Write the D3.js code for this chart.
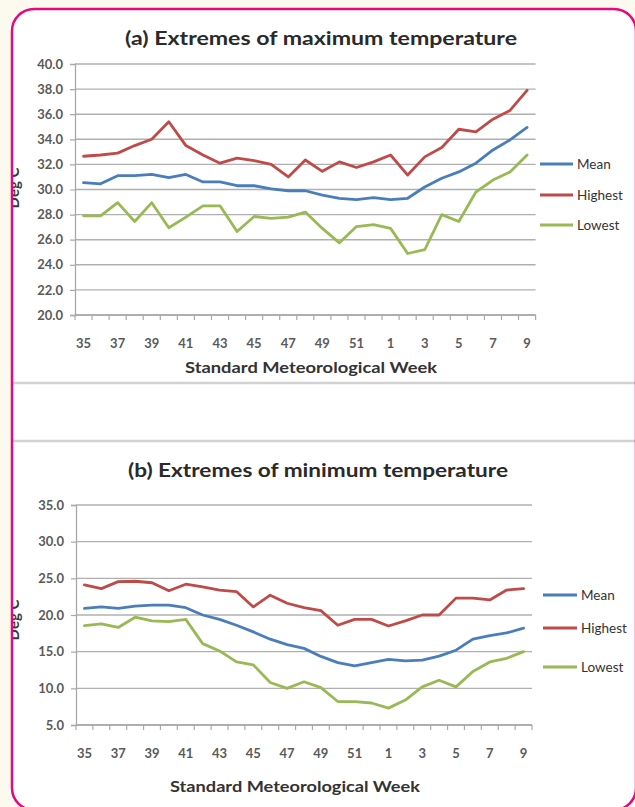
<!DOCTYPE html>
<html>
<head>
<meta charset="utf-8">
<script src="https://cdn.jsdelivr.net/npm/d3@7"></script>
<style>
  html, body { margin: 0; padding: 0; background: #fcf9ee; }
  svg { display: block; }
  text { font-family: Lato, "Open Sans", "DejaVu Sans", sans-serif; }
</style>
</head>
<body>
<svg id="chart" width="635" height="807"></svg>
<script>
// Standard meteorological weeks (35..52, then 1..9 of the following year)
const weeks = [35,36,37,38,39,40,41,42,43,44,45,46,47,48,49,50,51,52,1,2,3,4,5,6,7,8,9];

// (a) Extremes of maximum temperature, deg C
const maxMean    = [30.55,30.45,31.1,31.1,31.2,30.95,31.2,30.6,30.6,30.3,30.3,30.05,29.9,29.9,29.55,29.3,29.2,29.35,29.2,29.3,30.2,30.9,31.4,32.1,33.15,33.95,34.95];
const maxHighest = [32.65,32.75,32.9,33.5,34.0,35.4,33.5,32.75,32.1,32.5,32.3,32.0,31.0,32.35,31.45,32.2,31.75,32.2,32.75,31.15,32.6,33.35,34.8,34.6,35.6,36.3,37.9];
const maxLowest  = [27.9,27.9,28.95,27.45,28.95,26.95,27.8,28.7,28.7,26.65,27.85,27.7,27.8,28.2,26.9,25.75,27.05,27.2,26.9,24.9,25.2,28.0,27.45,29.8,30.75,31.4,32.75];

// (b) Extremes of minimum temperature, deg C
const minMean    = [20.9,21.1,20.9,21.2,21.35,21.35,21.0,20.0,19.4,18.6,17.7,16.7,15.95,15.45,14.35,13.5,13.05,13.5,13.95,13.75,13.85,14.4,15.2,16.7,17.2,17.55,18.2];
const minHighest = [24.1,23.6,24.55,24.6,24.4,23.3,24.2,23.85,23.4,23.2,21.1,22.7,21.6,21.0,20.6,18.6,19.4,19.4,18.5,19.2,20.0,20.0,22.3,22.3,22.05,23.4,23.6];
const minLowest  = [18.55,18.8,18.3,19.7,19.2,19.1,19.4,16.1,15.1,13.6,13.2,10.8,10.0,10.9,10.1,8.2,8.2,8.0,7.3,8.4,10.2,11.1,10.2,12.3,13.6,14.1,15.0];

// Axis ticks
const maxTicks = [20,22,24,26,28,30,32,34,36,38,40];
const minTicks = [5,10,15,20,25,30,35];

const seriesNames  = ["Mean", "Highest", "Lowest"];
const seriesColors = ["#4a7ebb", "#be4b48", "#98b954"];

const titleA = "(a)  Extremes of maximum temperature";
const titleB = "(b)  Extremes of minimum temperature";
const xTitle = "Standard Meteorological Week";
const yTitle = "Deg C";

const svg = d3.select("#chart");
const W = 635, H = 807;

// page background and card
svg.append("rect").attr("width", W).attr("height", H).attr("fill", "#fcf9ee");
const card = { x: 12, y: 9, w: 624, h: 801, r: 22 };
svg.append("defs").append("clipPath").attr("id", "cardClip")
  .append("rect").attr("x", card.x).attr("y", card.y)
  .attr("width", card.w).attr("height", card.h).attr("rx", card.r);
svg.append("rect").attr("x", card.x).attr("y", card.y)
  .attr("width", card.w).attr("height", card.h).attr("rx", card.r)
  .attr("fill", "#ffffff");

const inner = svg.append("g").attr("clip-path", "url(#cardClip)");

// separators between the two chart blocks
[383, 441].forEach(y => {
  inner.append("line").attr("x1", card.x).attr("x2", W).attr("y1", y).attr("y2", y)
    .attr("stroke", "#d2d2d2").attr("stroke-width", 2.5);
});

function drawPanel(cfg) {
  const g = inner.append("g");
  const x = d3.scaleBand().domain(d3.range(weeks.length)).range([cfg.left, cfg.right]);
  const y = d3.scaleLinear().domain(cfg.yDomain).range([cfg.bottom, cfg.top]);
  const cx = i => x(i) + x.bandwidth() / 2;

  // horizontal gridlines
  g.append("g").selectAll("line").data(cfg.yTicks).join("line")
    .attr("x1", cfg.left).attr("x2", cfg.right)
    .attr("y1", d => y(d)).attr("y2", d => y(d))
    .attr("stroke", "#b0b0b0").attr("stroke-width", 1.4);

  // y axis
  const yAxis = d3.axisLeft(y).tickValues(cfg.yTicks).tickFormat(d3.format(".1f")).tickSize(5).tickPadding(7);
  const ya = g.append("g").attr("transform", `translate(${cfg.left},0)`).call(yAxis);
  ya.select(".domain").attr("stroke", "#a8a8a8").attr("stroke-width", 1.3);
  ya.selectAll(".tick line").attr("stroke", "#a8a8a8").attr("stroke-width", 1.2);
  ya.selectAll(".tick text").attr("fill", "#5a5a5a").attr("font-size", 13)
    .attr("font-weight", 700).style("font-family", "Lato, sans-serif");

  // x axis: ticks between categories, every other week labelled
  const xa = g.append("g").attr("transform", `translate(0,${cfg.bottom})`);
  xa.append("line").attr("x1", cfg.left).attr("x2", cfg.right).attr("y1", 0).attr("y2", 0)
    .attr("stroke", "#a8a8a8").attr("stroke-width", 1.3);
  xa.selectAll("line.tk").data(d3.range(weeks.length + 1)).join("line").attr("class", "tk")
    .attr("x1", i => i < weeks.length ? x(i) : cfg.right)
    .attr("x2", i => i < weeks.length ? x(i) : cfg.right)
    .attr("y1", 0).attr("y2", 5).attr("stroke", "#a8a8a8").attr("stroke-width", 1.2);
  xa.selectAll("text").data(d3.range(0, weeks.length, 2)).join("text")
    .attr("x", cx).attr("y", cfg.xLabelY - cfg.bottom)
    .attr("text-anchor", "middle").attr("fill", "#5a5a5a")
    .attr("font-size", 13).attr("font-weight", 700)
    .text(i => weeks[i]);

  // series lines
  const line = d3.line().x((d, i) => cx(i)).y(d => y(d));
  cfg.series.forEach((s, k) => {
    g.append("path").datum(s).attr("d", line)
      .attr("fill", "none").attr("stroke", seriesColors[k])
      .attr("stroke-width", 2.8).attr("stroke-linejoin", "round").attr("stroke-linecap", "round");
  });

  // chart title
  g.append("text").attr("x", cfg.titleX).attr("y", cfg.titleY)
    .attr("text-anchor", "middle").attr("font-size", 18).attr("font-weight", 700)
    .attr("fill", "#2a2a2a")
    .attr("textLength", cfg.titleW).attr("lengthAdjust", "spacingAndGlyphs")
    .text(cfg.title);

  // x axis title
  g.append("text").attr("x", cfg.xTitleX).attr("y", cfg.xTitleY)
    .attr("text-anchor", "middle").attr("font-size", 16).attr("font-weight", 700)
    .attr("fill", "#333333")
    .attr("textLength", cfg.xTitleW).attr("lengthAdjust", "spacingAndGlyphs")
    .text(xTitle);

  // y axis title (rotated, partly tucked under the card edge)
  g.append("text").attr("transform", `translate(${cfg.yTitleX},${cfg.yTitleY}) rotate(-90)`)
    .attr("text-anchor", "middle").attr("font-size", 15).attr("font-weight", 700)
    .attr("fill", "#3a3a3a").text(yTitle);

  // legend
  const lg = g.append("g");
  seriesNames.forEach((name, k) => {
    const ly = cfg.legendY[k];
    lg.append("line").attr("x1", cfg.legendX).attr("x2", cfg.legendX + cfg.legendLen)
      .attr("y1", ly).attr("y2", ly).attr("stroke", seriesColors[k]).attr("stroke-width", 2.8);
    lg.append("text").attr("x", cfg.legendX + cfg.legendLen + 4).attr("y", ly + 4.5)
      .attr("font-size", 13.5).attr("fill", "#333333").text(name);
  });
}

drawPanel({
  series: [maxMean, maxHighest, maxLowest],
  yDomain: [20, 40], yTicks: maxTicks,
  left: 75, right: 535.6, top: 64, bottom: 315,
  xLabelY: 348,
  title: titleA, titleX: 321, titleY: 45, titleW: 392,
  xTitleX: 311, xTitleY: 373, xTitleW: 252,
  yTitleX: 19, yTitleY: 188,
  legendX: 540, legendLen: 33, legendY: [164, 195, 225]
});

drawPanel({
  series: [minMean, minHighest, minLowest],
  yDomain: [5, 35], yTicks: minTicks,
  left: 76, right: 532, top: 505, bottom: 725,
  xLabelY: 758,
  title: titleB, titleX: 318, titleY: 477, titleW: 380,
  xTitleX: 295, xTitleY: 792, xTitleW: 250,
  yTitleX: 19, yTitleY: 620,
  legendX: 543, legendLen: 34, legendY: [595, 628, 667]
});

// card border on top
svg.append("rect").attr("x", card.x).attr("y", card.y)
  .attr("width", card.w).attr("height", card.h).attr("rx", card.r)
  .attr("fill", "none").attr("stroke", "#e4097f").attr("stroke-width", 2.5);
</script>
</body>
</html>
